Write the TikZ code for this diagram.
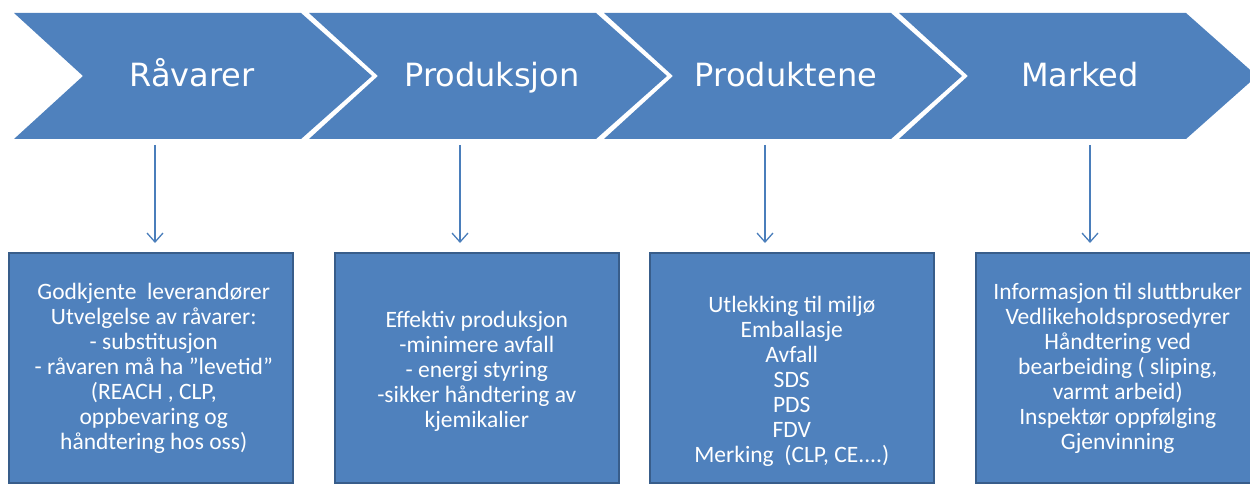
\documentclass[tikz,border=0pt]{standalone}
\usepackage{fontspec}
\newfontfamily\headfont{DejaVu Sans}
\newfontfamily\boxfont{Carlito}
\usetikzlibrary{arrows.meta}
\definecolor{chev}{HTML}{4F81BD}
\definecolor{boxline}{HTML}{385D8A}
\definecolor{arrcol}{HTML}{4A7EBB}
\begin{document}
\begin{tikzpicture}[x=1pt,y=-1pt,
  chevron/.style={fill=chev,draw=none},
  headtext/.style={text=white,font=\headfont\fontsize{32}{38}\selectfont,anchor=base,inner sep=0pt},
  infobox/.style={draw=boxline,fill=chev,line width=1.5pt,minimum width=284pt,minimum height=230pt,anchor=north west,inner sep=0pt},
  boxtext/.style={text=white,align=center,inner sep=0pt,font=\boxfont\fontsize{23.5}{25}\selectfont},
  downarrow/.style={draw=arrcol,line width=1.3pt,-{Straight Barb[length=9pt,width=16pt]}}]
\useasboundingbox (0,0) rectangle (1250,484);
\clip (0,0) rectangle (1250,484);
% chevrons
\foreach \i in {0,1,2,3}{
  \pgfmathsetmacro{\L}{14+295*\i}
  \fill[chevron] (\L,13) -- (\L+287,13) -- (\L+358,76) -- (\L+287,139) -- (\L,139) -- (\L+69,76) -- cycle;
}
\node[headtext] (h1) at (192,87) {Råvarer};
\node[headtext] (h2) at (492,87) {Produksjon};
\node[headtext] (h3) at (786,87) {Produktene};
\node[headtext] (h4) at (1080,87) {Marked};
% boxes
\node[infobox] (b1) at (8,252) {};
\node[infobox] (b2) at (334,252) {};
\node[infobox] (b3) at (649,252) {};
\node[infobox] (b4) at (975,252) {};
\node[boxtext] (t1) at ([xshift=3pt,yshift=-1pt]b1.center) {Godkjente~ leverandører\\Utvelgelse av råvarer:\\- substitusjon\\- råvaren må ha ”levetid”\\(REACH , CLP,\\oppbevaring og\\håndtering hos oss)};
\node[boxtext] (t2) at ([yshift=-4pt]b2.center) {Effektiv produksjon\\-minimere avfall\\- energi styring\\-sikker håndtering av\\kjemikalier};
\node[boxtext] (t3) at ([yshift=-14pt]b3.center) {Utlekking til miljø\\Emballasje\\Avfall\\SDS\\PDS\\FDV\\Merking~ (CLP, CE....)};
\node[boxtext] (t4) at ([yshift=-1pt]b4.center) {Informasjon til sluttbruker\\Vedlikeholdsprosedyrer\\Håndtering ved\\bearbeiding ( sliping,\\varmt arbeid)\\Inspektør oppfølging\\Gjenvinning};
% arrows
\coordinate (a1s) at (155,145); \coordinate (a1e) at (155,243);
\coordinate (a2s) at (460,145); \coordinate (a2e) at (460,243);
\coordinate (a3s) at (765,145); \coordinate (a3e) at (765,243);
\coordinate (a4s) at (1090,145); \coordinate (a4e) at (1090,243);
\draw[downarrow] (a1s) -- (a1e);
\draw[downarrow] (a2s) -- (a2e);
\draw[downarrow] (a3s) -- (a3e);
\draw[downarrow] (a4s) -- (a4e);
\end{tikzpicture}
\end{document}
